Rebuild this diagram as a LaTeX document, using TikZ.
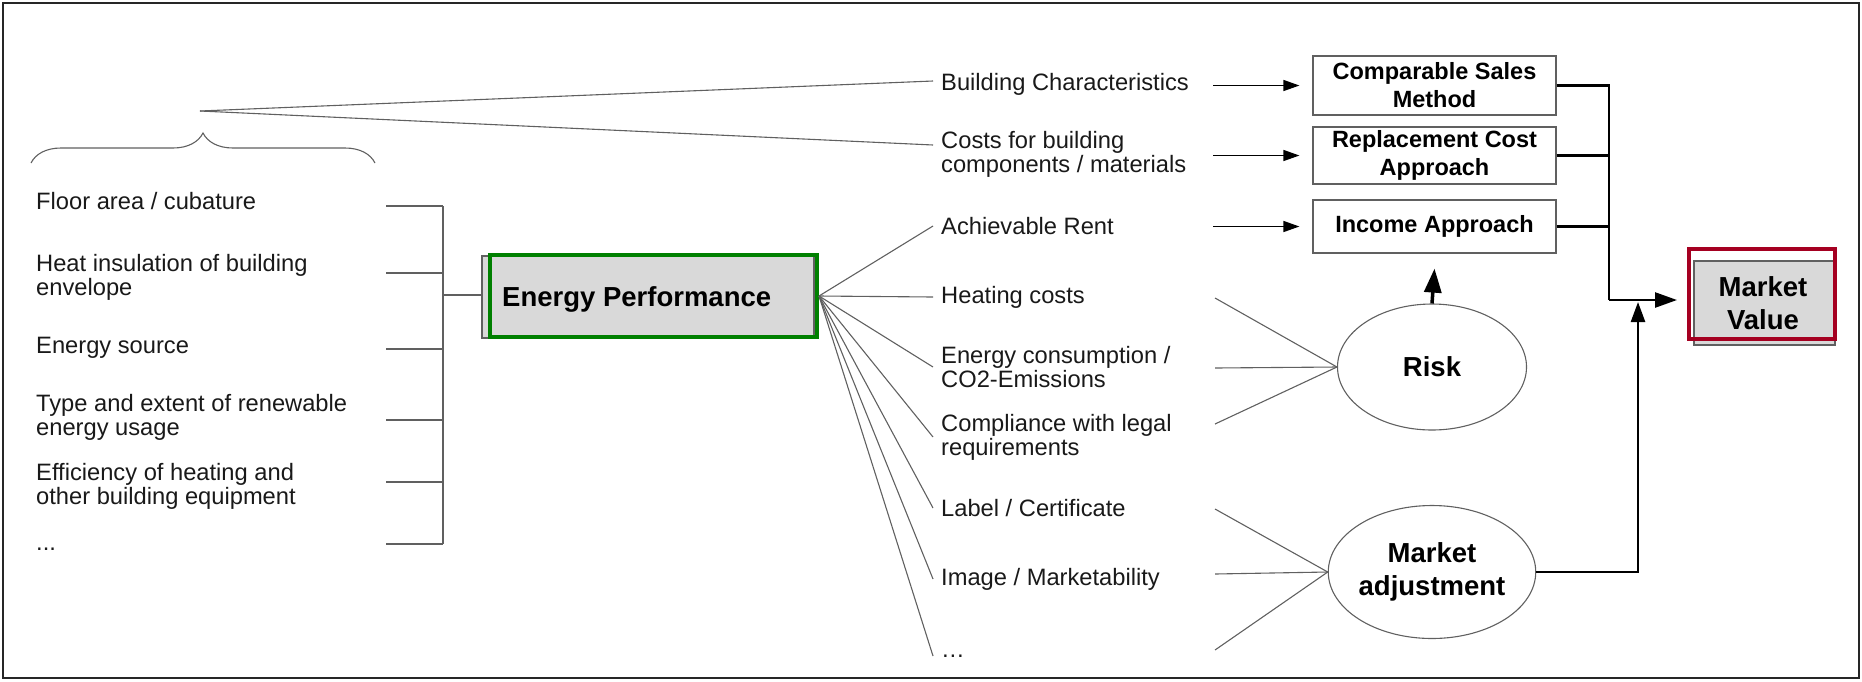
\documentclass[tikz,border=0pt]{standalone}
\usepackage{fontspec}
\setmainfont{Liberation Sans}
\usetikzlibrary{arrows.meta,shapes.geometric,decorations.pathreplacing,calc}
\definecolor{epgreen}{HTML}{008000}
\definecolor{mvred}{HTML}{A50021}
\definecolor{boxgray}{HTML}{D9D9D9}
\definecolor{linegray}{HTML}{606060}
\begin{document}
\begin{tikzpicture}[x=1pt,y=-1pt,
  thinline/.style={draw=linegray, line width=1.1pt},
  item/.style={anchor=west, inner xsep=8pt, inner ysep=0pt, align=left, font=\fontsize{23.7pt}{24pt}\selectfont, text=black!90},
  vbox/.style={draw=linegray, line width=1.2pt, minimum width=243pt, align=center, font=\bfseries\fontsize{23.5pt}{28pt}\selectfont, inner sep=0pt},
  ell/.style={ellipse, draw=linegray, line width=1.1pt, align=center, font=\bfseries\fontsize{27.5pt}{33pt}\selectfont, inner sep=0pt},
  arr/.style={draw=black, line width=1.3pt, -{Triangle[length=16pt,width=11pt]}},
  thk/.style={draw=black, line width=2.5pt}
]
\useasboundingbox (0,0) rectangle (1862,681);
\draw[line width=2pt, draw=black!85] (3,3) rectangle (1859,678);

% left list
\node[item] (l1) at (28,201) {Floor area / cubature};
\node[item] (l2) at (28,277) {Heat insulation of building\\envelope};
\node[item] (l3) at (28,348) {Energy source};
\node[item] (l4) at (28,417) {Type and extent of renewable\\energy usage};
\node[item] (l5) at (28,486) {Efficiency of heating and\\other building equipment};
\node[item] (l6) at (28,549) {...};

\coordinate (s1) at (386,206);
\coordinate (s2) at (386,273);
\coordinate (s3) at (386,349);
\coordinate (s4) at (386,420);
\coordinate (s5) at (386,482);
\coordinate (s6) at (386,544);
\coordinate (bus) at (443,295);
\foreach \s in {s1,s2,s3,s4,s5,s6} {\draw[thinline] (\s) -- (\s -| bus);}
\draw[thinline] (s1 -| bus) -- (s6 -| bus);

% brace and apex
\draw[thinline, decorate, decoration={brace, amplitude=30pt}] (31,163) -- (375,163);
\coordinate (apex) at (200,111);

% Energy performance
\node[draw=linegray, fill=boxgray, line width=1.2pt, minimum width=332pt, minimum height=82pt, inner sep=0pt] (epb) at (648,297) {};
\node[draw=epgreen, line width=4pt, minimum width=327pt, minimum height=82pt, inner sep=0pt] (ep) at (653.5,296) {};
\node[anchor=west, font=\bfseries\fontsize{27.5pt}{33pt}\selectfont, inner sep=0pt] (ept) at (502,299) {Energy Performance};
\draw[thinline] (bus) -- (bus -| epb.west);

% top texts
\node[item] (bc) at (933,84) {Building Characteristics};
\node[item] (cb) at (933,154) {Costs for building\\components / materials};
\draw[thinline] (apex) -- ([yshift=3pt]bc.west);
\draw[thinline] (apex) -- ([yshift=9pt]cb.west);

% right items
\node[item] (ar) at (933,226) {Achievable Rent};
\node[item] (hc) at (933,297) {Heating costs};
\node[item] (ec) at (933,367) {Energy consumption /\\CO2-Emissions};
\node[item] (cl) at (933,437) {Compliance with legal\\requirements};
\node[item] (lc) at (933,508) {Label / Certificate};
\node[item] (im) at (933,579) {Image / Marketability};
\node[item] (dt) at (933,656) {…};
\foreach \t in {ar,hc,ec,cl,lc,im,dt} {\draw[thinline] (ep.east) -- (\t.west);}

% valuation boxes
\node[vbox, minimum height=59pt] (csm) at (1434.5,85.5) {Comparable Sales\\Method};
\node[vbox, minimum height=57pt] (rca) at (1434.5,155.5) {Replacement Cost\\Approach};
\node[vbox, minimum height=53pt] (inc) at (1434.5,226.5) {Income Approach};
\foreach \b in {csm,rca,inc} {\draw[arr] ([xshift=-99pt]\b.west) -- ([xshift=-13pt]\b.west);}

% ellipses
\node[ell, minimum width=189pt, minimum height=126pt] (risk) at (1432,367) {Risk};
\node[ell, minimum width=199pt, minimum height=133pt] (ma) at (1432,572) {Market\\adjustment};
\coordinate (r1) at (1215,298);
\coordinate (r2) at (1215,368);
\coordinate (r3) at (1215,424);
\coordinate (m1) at (1215,509);
\coordinate (m2) at (1215,574);
\coordinate (m3) at (1215,650);
\foreach \c in {r1,r2,r3} {\draw[thinline] (\c) -- (risk.west);}
\foreach \c in {m1,m2,m3} {\draw[thinline] (\c) -- (ma.west);}
\draw[draw=black, line width=3.5pt, -{Triangle[length=24pt,width=17pt]}] (risk.north) -- ([yshift=-15pt]inc.south);

% market value
\node[draw=linegray, fill=boxgray, line width=1.2pt, minimum width=141pt, minimum height=84pt, inner sep=0pt] (mvb) at (1764.5,303) {};
\node[draw=mvred, line width=4pt, minimum width=146pt, minimum height=90pt, inner sep=0pt] (mv) at (1762,294) {};
\node[font=\bfseries\fontsize{27.5pt}{33pt}\selectfont, align=center, inner sep=0pt] (mvt) at (1763,303) {Market\\Value};

\coordinate (bus2) at (1609,300);
\coordinate (upend) at (1638,302);
\draw[thk] (csm.east) -| (bus2);
\draw[thk] (rca.east) -- (rca.east -| bus2);
\draw[thk] (inc.east) -- (inc.east -| bus2);
\draw[thk, -{Triangle[length=22pt,width=15pt]}] (bus2) -- ([xshift=-10pt]mv.west |- bus2);
\draw[thk, -{Triangle[length=20pt,width=14pt]}] (ma.east) -| (upend);
\end{tikzpicture}
\end{document}
